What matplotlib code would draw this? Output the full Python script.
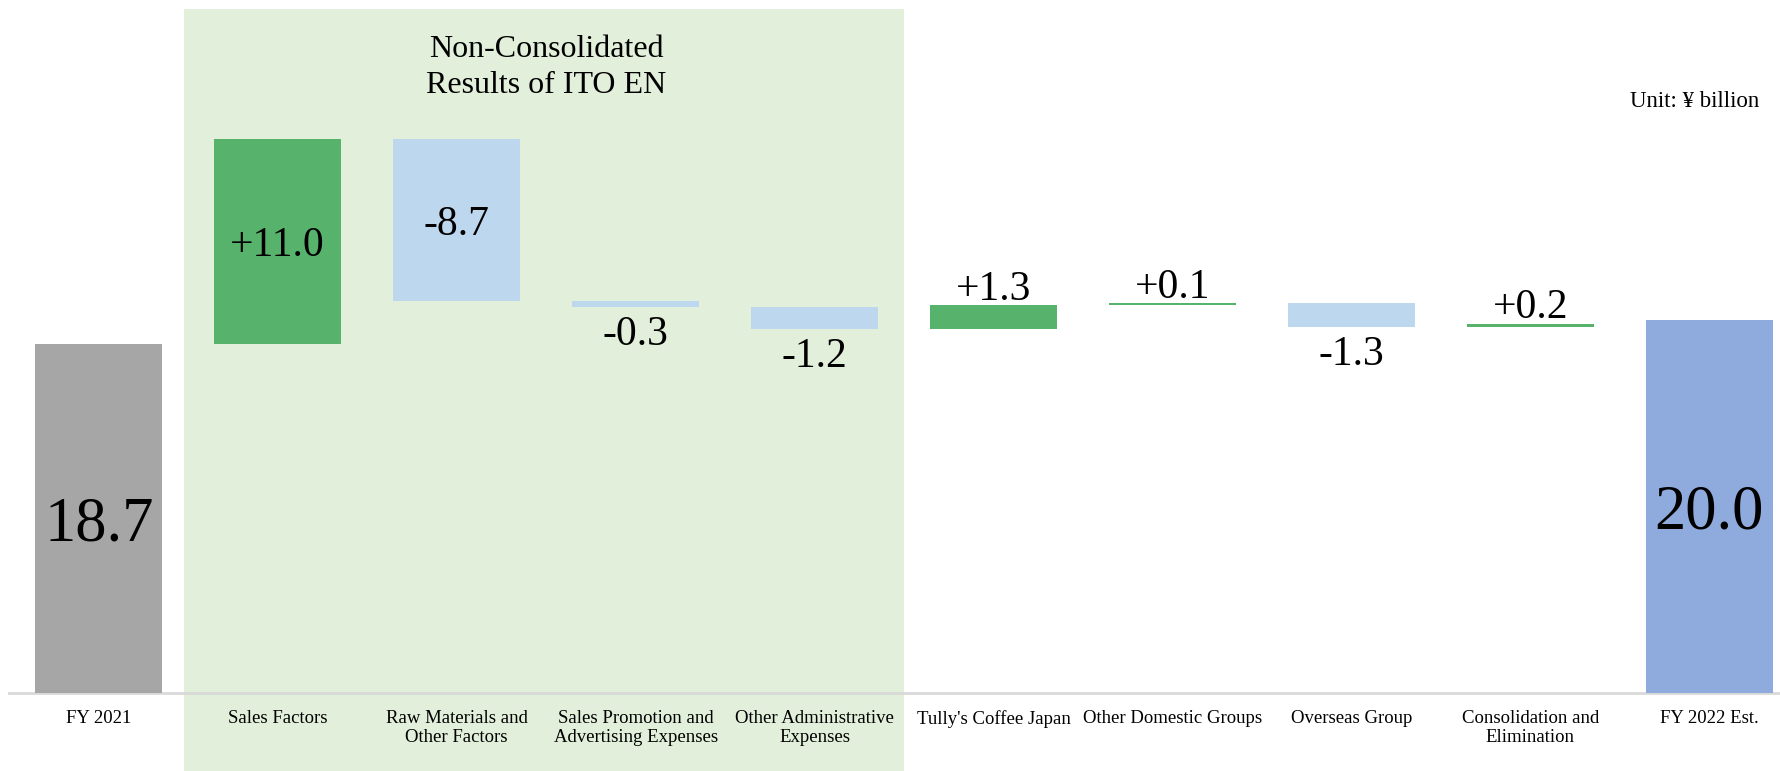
import matplotlib
matplotlib.use("Agg")
import matplotlib.pyplot as plt
from matplotlib.patches import Rectangle

plt.rcParams['font.family'] = ['Liberation Serif', 'DejaVu Serif']

categories = ["FY 2021", "Sales Factors", "Raw Materials and\nOther Factors",
              "Sales Promotion and\nAdvertising Expenses", "Other Administrative\nExpenses",
              "Tully's Coffee Japan", "Other Domestic Groups", "Overseas Group",
              "Consolidation and\nElimination", "FY 2022 Est."]
start_value = 18.7
changes = [11.0, -8.7, -0.3, -1.2, 1.3, 0.1, -1.3, 0.2]
end_value = 20.0
labels = ["18.7", "+11.0", "-8.7", "-0.3", "-1.2", "+1.3", "+0.1", "-1.3", "+0.2", "20.0"]

fig = plt.figure(figsize=(17.81, 7.71), dpi=100)
ax = fig.add_axes([0.0052, 0.1012, 0.9948, 0.8988])
ax.set_xlim(-0.5, 9.4)
ax.set_ylim(0, 37.16)

# shaded block for the non-consolidated part
ax.add_patch(Rectangle((0.475, -6), 4.025, 36.7 + 6, facecolor='#E2EFDA',
                       edgecolor='none', clip_on=False, zorder=0))

w = 0.71
green = '#57B36C'
lightblue = '#BDD7EE'

ax.bar(0, start_value, width=w, color='#A6A6A6', zorder=2)
ax.text(0, start_value / 2, labels[0], ha='center', va='center_baseline', fontsize=45, zorder=3)

level = start_value
for i, ch in enumerate(changes):
    x = i + 1
    bottom = level if ch > 0 else level + ch
    color = green if ch > 0 else lightblue
    ax.bar(x, abs(ch), bottom=bottom, width=w, color=color, zorder=2)
    lab = labels[i + 1]
    if abs(ch) > 5:
        ax.text(x, bottom + abs(ch) / 2, lab, ha='center', va='center_baseline',
                fontsize=30, zorder=3)
    elif ch > 0:
        ax.annotate(lab, (x, level + ch), xytext=(0, 4), textcoords='offset points',
                    ha='center', va='baseline', fontsize=30, zorder=3)
    else:
        ax.annotate(lab, (x, level + ch), xytext=(0, -6), textcoords='offset points',
                    ha='center', va='top', fontsize=30, zorder=3)
    level += ch

ax.bar(9, end_value, width=w, color='#8FAADC', zorder=2)
ax.text(9, end_value / 2, labels[-1], ha='center', va='center_baseline', fontsize=45, zorder=3)

ax.axhline(0, color='#D9D9D9', lw=2, zorder=1, clip_on=False)

ax.set_xticks(range(len(categories)))
ax.set_xticklabels(categories, fontsize=13.5, linespacing=1.15)
ax.tick_params(axis='x', length=0, pad=12.5)
ax.set_yticks([])
for s in ax.spines.values():
    s.set_visible(False)
ax.patch.set_alpha(0)

ax.text(2.5, 33.55, "Non-Consolidated\nResults of ITO EN", ha='center', va='center',
        fontsize=23, linespacing=1.3, zorder=3)
fig.text(0.988, 0.869, "Unit: ¥ billion", ha='right', va='center', fontsize=16.5)

fig.savefig("out.png", dpi=100)
